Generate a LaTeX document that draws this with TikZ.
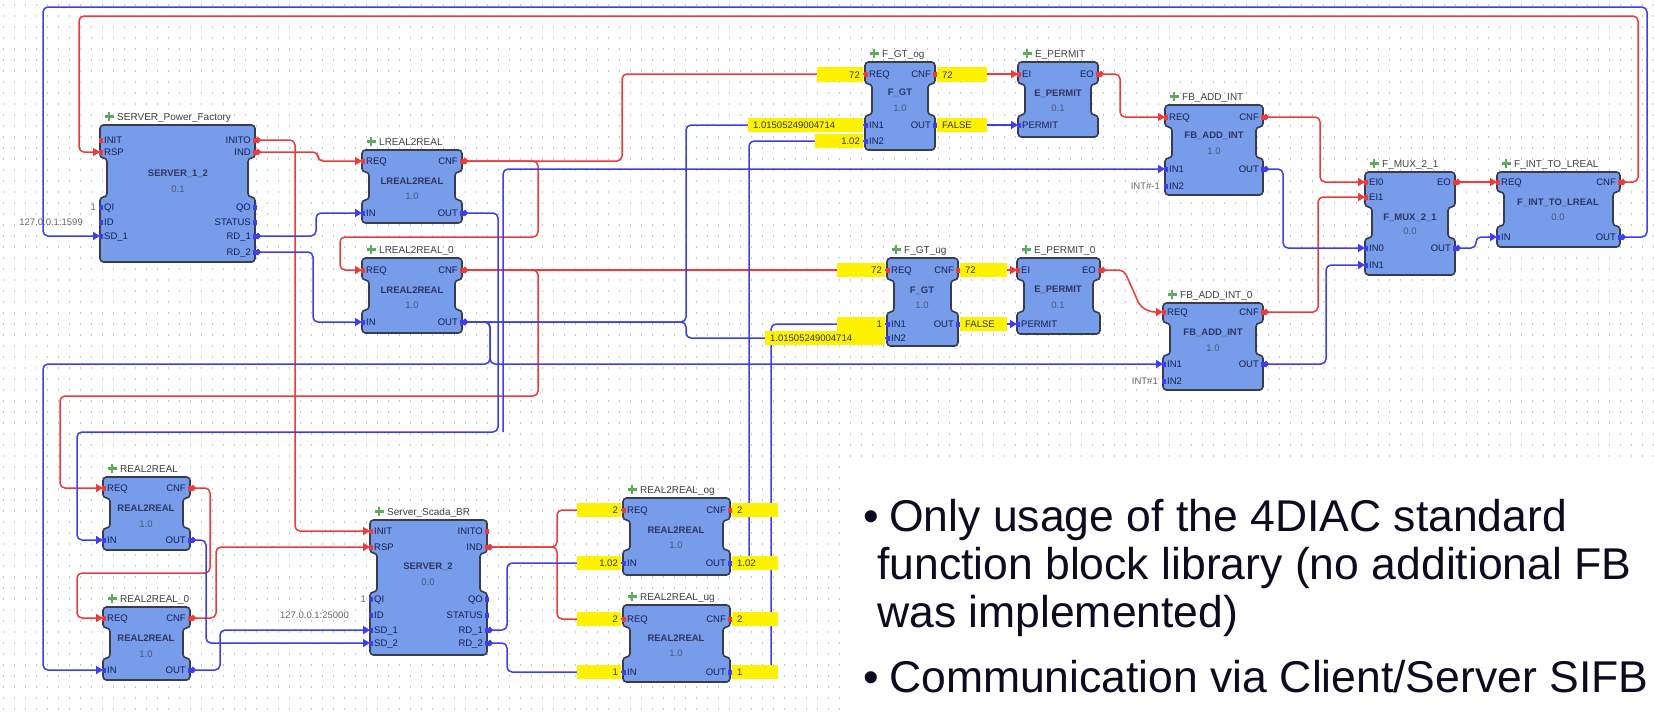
\documentclass[tikz,border=0pt]{standalone}
\usepackage{fontspec}
\setmainfont{Liberation Sans}
\usetikzlibrary{arrows.meta}
\pgfdeclarelayer{gridlayer}
\pgfdeclarelayer{lines}
\pgfsetlayers{gridlayer,lines,main}
\definecolor{evred}{RGB}{238,58,58}
\definecolor{datblue}{RGB}{62,62,236}
\definecolor{fbfill}{RGB}{118,156,234}
\definecolor{fbdraw}{RGB}{55,60,78}
\definecolor{fbtext}{RGB}{24,30,80}
\definecolor{yel}{RGB}{255,242,0}
\definecolor{gridc}{RGB}{198,198,204}
\definecolor{plusg}{RGB}{95,170,95}
\definecolor{bulletc}{RGB}{12,12,30}
\tikzset{
  conn/.style={line width=1.5pt, rounded corners=5pt},
  evc/.style={conn, draw=evred, {Turned Square[length=6pt,width=7pt]}-{Triangle[length=7pt,width=8pt]}},
  datc/.style={conn, draw=datblue, {Turned Square[length=6pt,width=7pt]}-{Triangle[length=7pt,width=8pt]}},
  datf/.style={conn, draw=datblue, -{Triangle[length=7pt,width=8pt]}},
  fbbody/.style={fill=fbfill, draw=fbdraw, line width=1.6pt, rounded corners=3.5pt},
  tx/.style={inner sep=0pt, text height=7pt, text depth=0pt},
  plabel/.style={tx, font=\fontsize{9.5}{10}\selectfont, text=fbtext},
  ftitle/.style={tx, font=\fontsize{10}{11}\selectfont, text=black!75},
  ftype/.style={tx, font=\fontsize{9.5}{11}\selectfont\bfseries, text=fbtext!90},
  fver/.style={tx, font=\fontsize{9.5}{10}\selectfont, text=fbtext!75},
  constv/.style={tx, font=\fontsize{9.5}{10}\selectfont, text=black!60},
  yval/.style={tx, font=\fontsize{9.5}{10}\selectfont, text=black!80},
  btxt/.style={font=\fontsize{44.5}{50}\selectfont, text=bulletc, inner sep=0pt, anchor=base west},
}
% block shape: id, L, T, R, B, neck top, neck bottom, title
\newcommand\fbshape[8]{%
  \draw[fbbody] (#2,#3) -- (#4,#3) -- (#4,#6) -- (#4-7,#6) -- (#4-7,#7) -- (#4,#7) -- (#4,#5) -- (#2,#5) -- (#2,#7) -- (#2+7,#7) -- (#2+7,#6) -- (#2,#6) -- cycle;
  \draw[plusg, line width=2.2pt] (#2+9,#3-13) -- (#2+9,#3-4) (#2+4.5,#3-8.5) -- (#2+13.5,#3-8.5);
  \node[ftitle, anchor=west] (#1-title) at (#2+17,#3-8.5) {#8};
}
\newcommand\fbtype[6]{%
  \node[ftype] (#1-type) at (#2,#3) {#5};
  \node[fver] (#1-ver) at (#2,#4) {#6};
}
% pins: colour, coordinate name, x, y, label
\newcommand\pinIn[5]{%
  \coordinate (#2) at (#3,#4);
  \fill[#1] (#3-1.5,#4-2.5) rectangle (#3+2.5,#4+2.5);
  \node[plabel, anchor=west] (#2-l) at (#3+4,#4) {#5};
}
\newcommand\pinOut[5]{%
  \coordinate (#2) at (#3,#4);
  \fill[#1] (#3-2.5,#4-2.5) rectangle (#3+1.5,#4+2.5);
  \node[plabel, anchor=east] (#2-l) at (#3-4,#4) {#5};
}
% yellow value boxes
\newcommand\yvL[6]{\fill[yel] (#2,#3) rectangle (#4,#5); \node[yval, anchor=east] (#1) at (#4-3,{(#3+#5)/2}) {#6};}
\newcommand\yvR[6]{\fill[yel] (#2,#3) rectangle (#4,#5); \node[yval, anchor=west] (#1) at (#2+5,{(#3+#5)/2}) {#6};}
\begin{document}
\begin{tikzpicture}[x=1pt,y=-1pt]
\useasboundingbox (0,0) rectangle (1654,712);
\begin{pgfonlayer}{gridlayer}
  \fill[white] (0,0) rectangle (1654,712);
  \foreach \gy in {5,16,...,712} {\draw[gridc, line width=1.2pt, dash pattern=on 1.2pt off 9.8pt] (3,\gy) -- (1654,\gy);}
  \fill[white] (850,460) rectangle (1654,712);
\end{pgfonlayer}

% ---------------- blocks ----------------
\fbshape{srv1}{100}{125}{255}{262}{158}{197}{SERVER\_Power\_Factory}
\fbtype{srv1}{178}{173}{189}{SERVER\_1\_2}{0.1}
\pinIn{evred}{srv1-INIT}{100}{140}{INIT}
\pinIn{evred}{srv1-RSP}{100}{152}{RSP}
\pinIn{datblue}{srv1-QI}{100}{207}{QI}
\pinIn{datblue}{srv1-ID}{100}{222}{ID}
\pinIn{datblue}{srv1-SD1}{100}{236}{SD\_1}
\pinOut{evred}{srv1-INITO}{255}{140}{INITO}
\pinOut{evred}{srv1-IND}{255}{152}{IND}
\pinOut{datblue}{srv1-QO}{255}{207}{QO}
\pinOut{datblue}{srv1-STATUS}{255}{222}{STATUS}
\pinOut{datblue}{srv1-RD1}{255}{236}{RD\_1}
\pinOut{datblue}{srv1-RD2}{255}{252}{RD\_2}

\fbshape{lr}{362}{150}{462}{223}{172}{200}{LREAL2REAL}
\fbtype{lr}{412}{181}{196}{LREAL2REAL}{1.0}
\pinIn{evred}{lr-REQ}{362}{161}{REQ}
\pinIn{datblue}{lr-IN}{362}{213}{IN}
\pinOut{evred}{lr-CNF}{462}{161}{CNF}
\pinOut{datblue}{lr-OUT}{462}{213}{OUT}

\fbshape{lr0}{362}{258}{462}{333}{280}{310}{LREAL2REAL\_0}
\fbtype{lr0}{412}{290}{305}{LREAL2REAL}{1.0}
\pinIn{evred}{lr0-REQ}{362}{270}{REQ}
\pinIn{datblue}{lr0-IN}{362}{322}{IN}
\pinOut{evred}{lr0-CNF}{462}{270}{CNF}
\pinOut{datblue}{lr0-OUT}{462}{322}{OUT}

\fbshape{gtog}{865}{62}{935}{150}{84}{115}{F\_GT\_og}
\fbtype{gtog}{900}{92}{108}{F\_GT}{1.0}
\pinIn{evred}{gtog-REQ}{865}{74}{REQ}
\pinIn{datblue}{gtog-IN1}{865}{125}{IN1}
\pinIn{datblue}{gtog-IN2}{865}{141}{IN2}
\pinOut{evred}{gtog-CNF}{935}{74}{CNF}
\pinOut{datblue}{gtog-OUT}{935}{125}{OUT}

\fbshape{ep}{1018}{62}{1098}{137}{84}{115}{E\_PERMIT}
\fbtype{ep}{1058}{93}{108}{E\_PERMIT}{0.1}
\pinIn{evred}{ep-EI}{1018}{74}{EI}
\pinIn{datblue}{ep-PERMIT}{1018}{125}{PERMIT}
\pinOut{evred}{ep-EO}{1098}{74}{EO}

\fbshape{add}{1165}{105}{1263}{195}{127}{158}{FB\_ADD\_INT}
\fbtype{add}{1214}{135}{151}{FB\_ADD\_INT}{1.0}
\pinIn{evred}{add-REQ}{1165}{117}{REQ}
\pinIn{datblue}{add-IN1}{1165}{169}{IN1}
\pinIn{datblue}{add-IN2}{1165}{186}{IN2}
\pinOut{evred}{add-CNF}{1263}{117}{CNF}
\pinOut{datblue}{add-OUT}{1263}{169}{OUT}

\fbshape{mux}{1365}{172}{1455}{275}{207}{238}{F\_MUX\_2\_1}
\fbtype{mux}{1410}{217}{231}{F\_MUX\_2\_1}{0.0}
\pinIn{evred}{mux-EI0}{1365}{182}{EI0}
\pinIn{evred}{mux-EI1}{1365}{197}{EI1}
\pinIn{datblue}{mux-IN0}{1365}{248}{IN0}
\pinIn{datblue}{mux-IN1}{1365}{265}{IN1}
\pinOut{evred}{mux-EO}{1455}{182}{EO}
\pinOut{datblue}{mux-OUT}{1455}{248}{OUT}

\fbshape{i2l}{1497}{172}{1620}{247}{192}{226}{F\_INT\_TO\_LREAL}
\fbtype{i2l}{1558}{202}{217}{F\_INT\_TO\_LREAL}{0.0}
\pinIn{evred}{i2l-REQ}{1497}{182}{REQ}
\pinIn{datblue}{i2l-IN}{1497}{237}{IN}
\pinOut{evred}{i2l-CNF}{1620}{182}{CNF}
\pinOut{datblue}{i2l-OUT}{1620}{237}{OUT}

\fbshape{gtug}{887}{258}{958}{346}{280}{312}{F\_GT\_ug}
\fbtype{gtug}{922}{290}{305}{F\_GT}{1.0}
\pinIn{evred}{gtug-REQ}{887}{270}{REQ}
\pinIn{datblue}{gtug-IN1}{887}{324}{IN1}
\pinIn{datblue}{gtug-IN2}{887}{338}{IN2}
\pinOut{evred}{gtug-CNF}{958}{270}{CNF}
\pinOut{datblue}{gtug-OUT}{958}{324}{OUT}

\fbshape{ep0}{1017}{258}{1100}{334}{280}{312}{E\_PERMIT\_0}
\fbtype{ep0}{1058}{289}{305}{E\_PERMIT}{0.1}
\pinIn{evred}{ep0-EI}{1017}{270}{EI}
\pinIn{datblue}{ep0-PERMIT}{1017}{324}{PERMIT}
\pinOut{evred}{ep0-EO}{1100}{270}{EO}

\fbshape{add0}{1163}{303}{1263}{390}{323}{355}{FB\_ADD\_INT\_0}
\fbtype{add0}{1213}{332}{348}{FB\_ADD\_INT}{1.0}
\pinIn{evred}{add0-REQ}{1163}{312}{REQ}
\pinIn{datblue}{add0-IN1}{1163}{364}{IN1}
\pinIn{datblue}{add0-IN2}{1163}{381}{IN2}
\pinOut{evred}{add0-CNF}{1263}{312}{CNF}
\pinOut{datblue}{add0-OUT}{1263}{364}{OUT}

\fbshape{r2r}{103}{477}{190}{550}{498}{528}{REAL2REAL}
\fbtype{r2r}{146}{508}{524}{REAL2REAL}{1.0}
\pinIn{evred}{r2r-REQ}{103}{488}{REQ}
\pinIn{datblue}{r2r-IN}{103}{540}{IN}
\pinOut{evred}{r2r-CNF}{190}{488}{CNF}
\pinOut{datblue}{r2r-OUT}{190}{540}{OUT}

\fbshape{r2r0}{103}{607}{190}{680}{628}{658}{REAL2REAL\_0}
\fbtype{r2r0}{146}{638}{654}{REAL2REAL}{1.0}
\pinIn{evred}{r2r0-REQ}{103}{618}{REQ}
\pinIn{datblue}{r2r0-IN}{103}{670}{IN}
\pinOut{evred}{r2r0-CNF}{190}{618}{CNF}
\pinOut{datblue}{r2r0-OUT}{190}{670}{OUT}

\fbshape{srv2}{370}{520}{487}{655}{553}{592}{Server\_Scada\_BR}
\fbtype{srv2}{428}{566}{582}{SERVER\_2}{0.0}
\pinIn{evred}{srv2-INIT}{370}{531}{INIT}
\pinIn{evred}{srv2-RSP}{370}{547}{RSP}
\pinIn{datblue}{srv2-QI}{370}{599}{QI}
\pinIn{datblue}{srv2-ID}{370}{615}{ID}
\pinIn{datblue}{srv2-SD1}{370}{630}{SD\_1}
\pinIn{datblue}{srv2-SD2}{370}{643}{SD\_2}
\pinOut{evred}{srv2-INITO}{487}{531}{INITO}
\pinOut{evred}{srv2-IND}{487}{547}{IND}
\pinOut{datblue}{srv2-QO}{487}{599}{QO}
\pinOut{datblue}{srv2-STATUS}{487}{615}{STATUS}
\pinOut{datblue}{srv2-RD1}{487}{630}{RD\_1}
\pinOut{datblue}{srv2-RD2}{487}{643}{RD\_2}

\fbshape{og}{623}{498}{730}{575}{520}{550}{REAL2REAL\_og}
\fbtype{og}{676}{530}{545}{REAL2REAL}{1.0}
\pinIn{evred}{og-REQ}{623}{510}{REQ}
\pinIn{datblue}{og-IN}{623}{563}{IN}
\pinOut{evred}{og-CNF}{730}{510}{CNF}
\pinOut{datblue}{og-OUT}{730}{563}{OUT}

\fbshape{ug}{623}{605}{730}{682}{627}{657}{REAL2REAL\_ug}
\fbtype{ug}{676}{638}{653}{REAL2REAL}{1.0}
\pinIn{evred}{ug-REQ}{623}{619}{REQ}
\pinIn{datblue}{ug-IN}{623}{672}{IN}
\pinOut{evred}{ug-CNF}{730}{619}{CNF}
\pinOut{datblue}{ug-OUT}{730}{672}{OUT}

% constants
\node[constv, anchor=east] (k1) at (96,207) {1};
\node[constv, anchor=east] (k2) at (83,222) {127.0.0.1:1599};
\node[constv, anchor=east] (k3) at (1160,186) {INT\#-1};
\node[constv, anchor=east] (k4) at (1158,381) {INT\#1};
\node[constv, anchor=east] (k5) at (366,599) {1};
\node[constv, anchor=east] (k6) at (349,615) {127.0.0.1:25000};

% ---------------- connections ----------------
\begin{pgfonlayer}{lines}
  % events
  \draw[evc] (srv1-INITO) -| (295,531) -- (srv2-INIT);
  \draw[evc] (srv1-IND) -| (318,161) -- (lr-REQ);
  \draw[evc] (i2l-CNF) -| (1638,16) -| (79,152) -- (srv1-RSP);
  \draw[evc] (lr-CNF) -| (538,237) -| (340,270) -- (lr0-REQ);
  \draw[evc] (lr-CNF) -| (622,74) -- (gtog-REQ);
  \draw[evc] (lr0-CNF) -- (gtug-REQ);
  \draw[evc] (lr0-CNF) -| (538,396) -| (60,488) -- (r2r-REQ);
  \draw[evc] (gtog-CNF) -- (ep-EI);
  \draw[evc] (ep-EO) -| (1120,117) -- (add-REQ);
  \draw[evc] (add-CNF) -| (1320,182) -- (mux-EI0);
  \draw[evc] (gtug-CNF) -- (ep0-EI);
  \draw[evc] (ep0-EO) -- (1124,270) -- (1140,306) -- (1150,312) -- (add0-REQ);
  \draw[evc] (add0-CNF) -| (1318,197) -- (mux-EI1);
  \draw[evc] (mux-EO) -- (i2l-REQ);
  \draw[evc] (r2r-CNF) -| (210,573) -| (77,618) -- (r2r0-REQ);
  \draw[evc] (r2r0-CNF) -| (216,547) -- (srv2-RSP);
  \draw[evc] (srv2-IND) -| (557,510) -- (og-REQ);
  \draw[evc] (srv2-IND) -| (557,619) -- (ug-REQ);
  % data
  \draw[datc] (i2l-OUT) -| (1647,7) -| (43,236) -- (srv1-SD1);
  \draw[datc] (srv1-RD1) -| (316,213) -- (lr-IN);
  \draw[datc] (srv1-RD2) -| (313,322) -- (lr0-IN);
  \draw[datc] (lr-OUT) -| (498,432) -| (77,540) -- (r2r-IN);
  \coordinate (j1) at (503,432);
  \draw[datf] (j1) |- (add-IN1);
  \draw[datc] (lr0-OUT) -| (686,125) -- (gtog-IN1);
  \draw[datc] (lr0-OUT) -| (686,338) -- (gtug-IN2);
  \draw[datc] (lr0-OUT) -| (490,364) -| (43,670) -- (r2r0-IN);
  \draw[datc] (lr0-OUT) -| (490,364) -- (add0-IN1);
  \draw[datc] (gtog-OUT) -- (ep-PERMIT);
  \draw[datc] (gtug-OUT) -- (ep0-PERMIT);
  \draw[datc] (og-OUT) -| (749,141) -- (gtog-IN2);
  \draw[datc] (ug-OUT) -| (771,324) -- (gtug-IN1);
  \draw[datc] (srv2-RD1) -| (507,563) -- (og-IN);
  \draw[datc] (srv2-RD2) -| (507,672) -- (ug-IN);
  \draw[datc] (r2r-OUT) -| (206,643) -- (srv2-SD2);
  \draw[datc] (r2r0-OUT) -| (220,630) -- (srv2-SD1);
  \draw[datc] (add-OUT) -| (1283,248) -- (mux-IN0);
  \draw[datc] (add0-OUT) -| (1326,265) -- (mux-IN1);
  \draw[datc] (mux-OUT) -| (1476,237) -- (i2l-IN);
\end{pgfonlayer}

% ---------------- value boxes ----------------
\yvL{y1}{817}{67}{863}{82}{72}
\yvR{y2}{937}{67}{987}{82}{72}
\yvR{y3}{937}{118}{987}{132}{FALSE}
\yvR{y4}{748}{118}{863}{132}{1.01505249004714}
\yvL{y5}{815}{134}{863}{148}{1.02}
\yvL{y6}{837}{263}{885}{277}{72}
\yvR{y7}{960}{263}{1007}{277}{72}
\yvL{y8}{837}{317}{885}{331}{1}
\yvR{y9}{960}{317}{1007}{331}{FALSE}
\yvR{y10}{765}{331}{885}{345}{1.01505249004714}
\yvL{y11}{577}{503}{621}{517}{2}
\yvR{y12}{732}{503}{778}{517}{2}
\yvL{y13}{577}{556}{621}{570}{1.02}
\yvR{y14}{732}{556}{778}{570}{1.02}
\yvL{y15}{577}{612}{621}{626}{2}
\yvR{y16}{732}{612}{778}{626}{2}
\yvL{y17}{577}{665}{621}{679}{1}
\yvR{y18}{732}{665}{778}{679}{1}

% ---------------- bullet text ----------------
\node[btxt, anchor=base] (b1) at (871,531) {•};
\node[btxt] (t1) at (889,531) {Only usage of the 4DIAC standard};
\node[btxt] (t2) at (877,579) {function block library (no additional FB};
\node[btxt] (t3) at (877,627) {was implemented)};
\node[btxt, anchor=base] (b2) at (871,692) {•};
\node[btxt] (t4) at (889,692) {Communication via Client/Server SIFB};
\end{tikzpicture}
\end{document}
